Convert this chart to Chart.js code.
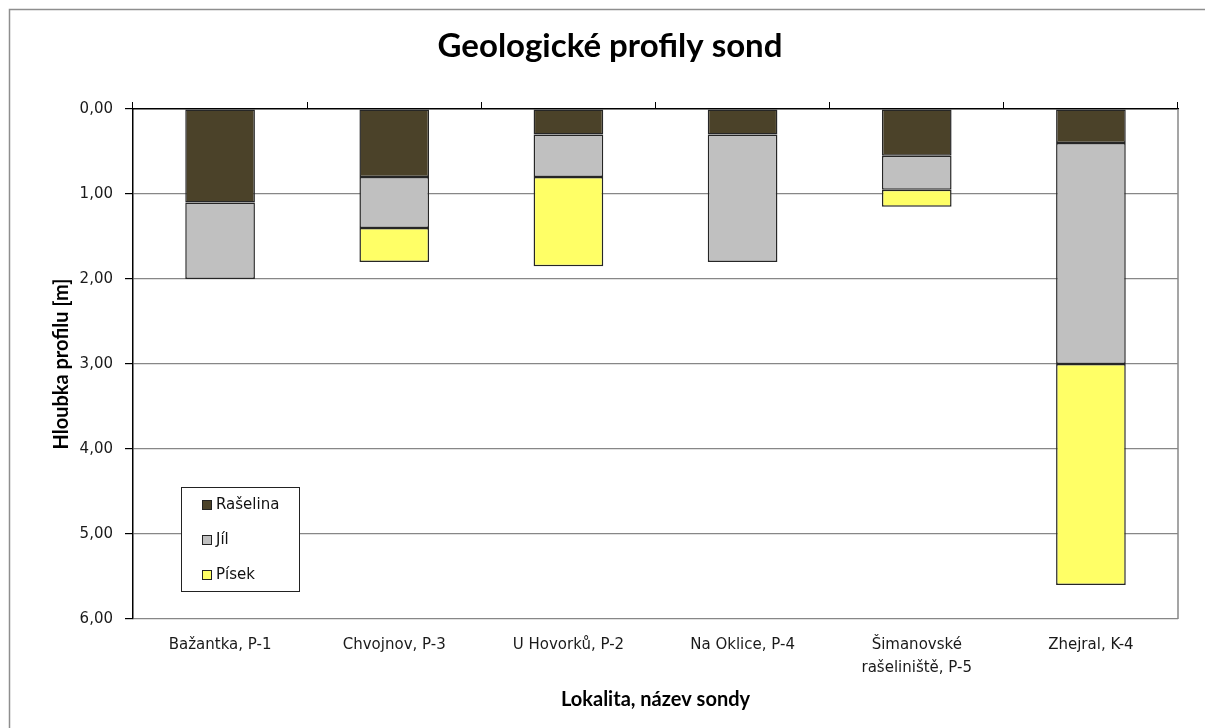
<!DOCTYPE html>
<html><head><meta charset="utf-8">
<script src="https://cdn.jsdelivr.net/npm/chart.js@4/dist/chart.umd.min.js"></script>
<style>html,body{margin:0;padding:0;background:#fff}canvas{display:block}</style>
</head><body>
<canvas id="c" width="1205" height="728"></canvas>
<script>
// Probe sites (x axis)
const categories = ['Bažantka, P-1', 'Chvojnov, P-3', 'U Hovorků, P-2', 'Na Oklice, P-4', ['Šimanovské', 'rašeliniště, P-5'], 'Zhejral, K-4'];
// Layer thicknesses in metres, stacked from the surface down
const raselina = [1.10, 0.80, 0.30, 0.30, 0.55, 0.40];
const jil      = [0.90, 0.60, 0.50, 1.50, 0.40, 2.60];
const pisek    = [null, 0.40, 1.05, null, 0.20, 2.60];
// Depth axis ticks
const depthTicks = [0, 1, 2, 3, 4, 5, 6];

const seriesNames = ['Rašelina', 'Jíl', 'Písek'];
const seriesColors = ['#4b4229', '#c0c0c0', '#ffff66'];
const gridGray = '#878787';

// White background plus the thin outer frame line (top and left)
const framePlugin = {
  id: 'frame',
  beforeDraw(chart) {
    const ctx = chart.ctx;
    ctx.save();
    ctx.fillStyle = '#fff';
    ctx.fillRect(0, 0, chart.width, chart.height);
    ctx.strokeStyle = '#8e8e8e';
    ctx.lineWidth = 1.5;
    ctx.beginPath();
    ctx.moveTo(9.5, chart.height);
    ctx.lineTo(9.5, 9.5);
    ctx.lineTo(chart.width, 9.5);
    ctx.stroke();
    ctx.restore();
  },
  beforeDatasetsDraw(chart) {
    // right edge of the plot area
    const a = chart.chartArea, ctx = chart.ctx;
    ctx.save();
    ctx.strokeStyle = gridGray;
    ctx.lineWidth = 1.5;
    ctx.beginPath();
    ctx.moveTo(a.right, a.top);
    ctx.lineTo(a.right, a.bottom);
    ctx.stroke();
    ctx.restore();
  }
};

// Boxed legend placed inside the plot area, lower left
const boxLegend = {
  id: 'boxLegend',
  afterDraw(chart) {
    const ctx = chart.ctx;
    const x = 181.5, y = 487.5, w = 118, h = 104;
    ctx.save();
    ctx.fillStyle = '#fff';
    ctx.fillRect(x, y, w, h);
    ctx.strokeStyle = '#222';
    ctx.lineWidth = 1;
    ctx.strokeRect(x, y, w, h);
    ctx.font = '15px "DejaVu Sans"';
    ctx.textBaseline = 'middle';
    ctx.textAlign = 'left';
    const rows = [505, 540, 575];
    chart.data.datasets.forEach((ds, i) => {
      const cy = rows[i];
      ctx.fillStyle = ds.backgroundColor;
      ctx.fillRect(202, cy - 5, 10, 10);
      ctx.strokeStyle = '#222';
      ctx.strokeRect(202.5, cy - 4.5, 9, 9);
      ctx.fillStyle = '#111';
      ctx.fillText(ds.label, 216, cy);
    });
    ctx.restore();
  }
};

const makeSet = (i, data) => ({
  label: seriesNames[i],
  data: data,
  backgroundColor: seriesColors[i],
  borderColor: '#262626',
  borderWidth: 1.5,
  borderSkipped: false,
  categoryPercentage: 1.0,
  barPercentage: 0.4
});

new Chart(document.getElementById('c'), {
  type: 'bar',
  data: {
    labels: categories,
    datasets: [makeSet(0, raselina), makeSet(1, jil), makeSet(2, pisek)]
  },
  plugins: [framePlugin, boxLegend],
  options: {
    responsive: false,
    animation: false,
    layout: { padding: { left: 42, right: 27, top: 0, bottom: 0 } },
    plugins: {
      legend: { display: false },
      tooltip: { enabled: false },
      title: {
        display: true,
        text: 'Geologické profily sond',
        color: '#000',
        font: { family: 'Lato', size: 33, weight: 'bold' },
        padding: { top: 27, bottom: 35.4 }
      }
    },
    scales: {
      x: {
        stacked: true,
        position: 'bottom',
        grid: { display: false, drawTicks: false },
        border: { display: false },
        ticks: {
          color: '#1a1a1a',
          padding: 15,
          maxRotation: 0,
          autoSkip: false,
          font: { family: 'DejaVu Sans', size: 15, lineHeight: 1.5 }
        },
        title: {
          display: true,
          text: 'Lokalita, název sondy',
          color: '#000',
          font: { family: 'Lato', size: 20, weight: 'bold' },
          padding: { top: 0, bottom: 16 }
        },
        afterFit(s) { s.height = 109; }
      },
      xTop: {
        type: 'category',
        position: 'top',
        offset: true,
        grid: { offset: true, drawOnChartArea: false, tickLength: 7, color: '#000', tickColor: '#000', lineWidth: 1 },
        border: { color: '#000', width: 1.5 },
        ticks: { display: false },
        afterFit(s) { s.height = 7; }
      },
      y: {
        stacked: true,
        reverse: true,
        min: 0,
        max: 6,
        afterBuildTicks(s) { s.ticks = depthTicks.map(v => ({ value: v })); },
        grid: {
          color: c => (c.tick && c.tick.value === 0) ? 'rgba(0,0,0,0)' : gridGray,
          tickColor: '#000',
          tickLength: 8,
          lineWidth: 1.2
        },
        border: { color: '#000', width: 1.5 },
        ticks: {
          color: '#1a1a1a',
          padding: 12,
          font: { family: 'DejaVu Sans', size: 15 },
          callback: v => Number(v).toFixed(2).replace('.', ',')
        },
        title: {
          display: true,
          text: 'Hloubka profilu [m]',
          color: '#000',
          font: { family: 'Lato', size: 20, weight: 'bold' },
          padding: { top: 8, bottom: 0 }
        },
        afterFit(s) { s.width = 91; }
      }
    }
  }
});
</script>
</body></html>
